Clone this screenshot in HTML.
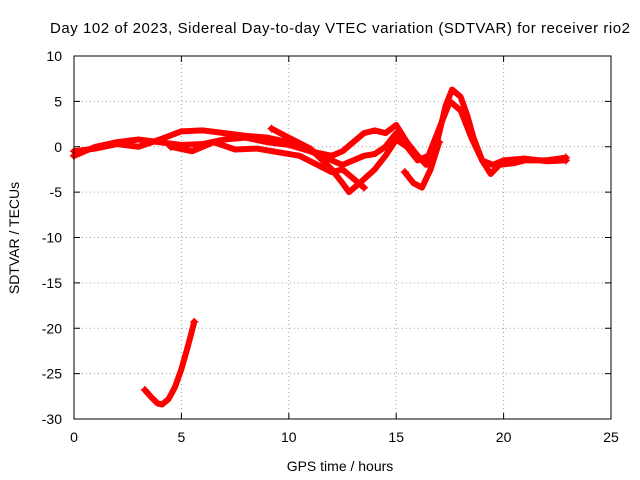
<!DOCTYPE html>
<html><head><meta charset="utf-8"><style>
body{margin:0;background:#fff}
svg{display:block;font-family:"Liberation Sans",sans-serif}
</style></head><body>
<svg id="chart" width="640" height="480">
<text x="50" y="33" font-size="15" textLength="580" lengthAdjust="spacing">Day 102 of 2023, Sidereal Day-to-day VTEC variation (SDTVAR) for receiver rio2</text>
<text x="340" y="471" font-size="14" text-anchor="middle">GPS time / hours</text>
<text x="19" y="238" font-size="14" text-anchor="middle" transform="rotate(-90 19 238)">SDTVAR / TECUs</text>
<g id="grid"></g><g id="ticks"></g><g id="series"></g>
<rect x="74" y="56" width="537" height="363" fill="none" stroke="#000"/>
</svg>
<script>
const xTicks=[0,5,10,15,20,25];
const yTicks=[10,5,0,-5,-10,-15,-20,-25,-30];
const trackA=[[3.3,-26.8],[3.6,-27.6],[3.9,-28.3],[4.1,-28.4],[4.4,-27.8],[4.7,-26.5],[5.0,-24.5],[5.3,-22],[5.6,-19.3]];
const trackB=[[0,-1],[0.5,-0.5],[1,0],[2,0.5],[3,0.8],[4,0.5],[5,0.2],[6,0.3],[7,0.8],[8,1.0],[9,0.5],[10,0.2],[11,-0.5],[12,-1.5],[12.5,-2],[13,-1.5],[13.5,-1],[14,-0.8],[14.5,0],[15,1.5],[15.5,0],[16,-1.5],[16.5,-1],[17,2],[17.5,5],[18,4],[18.5,1],[19,-1.5],[19.5,-2],[20,-1.5],[21,-1.3],[22,-1.6],[22.9,-1.5]];
const trackC=[[0,-0.5],[1,-0.2],[2,0.3],[3,0],[4,0.8],[5,1.7],[6,1.8],[7,1.5],[8,1.2],[9,1],[10,0.5],[11,-0.5],[12,-1],[12.5,-0.5],[13,0.5],[13.5,1.5],[14,1.8],[14.5,1.5],[15,2.4],[15.5,0.5],[16,-1],[16.4,-2],[16.8,-0.5],[17,1.5],[17.3,4.5],[17.6,6.3],[18,5.5],[18.3,3.5],[18.6,1],[19,-1.5],[19.4,-3],[19.8,-2],[20.5,-1.8],[21,-1.5],[22,-1.5],[22.9,-1.2]];
const trackD=[[9.2,2],[10,1],[11,-0.2],[12,-2.5],[12.5,-4],[12.8,-5],[13.3,-4],[14,-2.5],[14.5,-1],[15,0.8],[15.5,0]];
const trackE=[[4.5,0],[5.5,-0.5],[6.5,0.5],[7.5,-0.3],[8.5,-0.2],[9.5,-0.6],[10.5,-1],[11.5,-2.2],[12,-2.8],[12.5,-2.5],[13,-3.5],[13.5,-4.5]];
const trackF=[[15.4,-2.8],[15.8,-4],[16.2,-4.5],[16.6,-2.5],[17,0.5]];
const NS='http://www.w3.org/2000/svg';
const xs=t=>74+t*(537/25), ys=v=>56+(10-v)*(363/40);
function mk(tag,attrs,parent){const e=document.createElementNS(NS,tag);for(const k in attrs)e.setAttribute(k,attrs[k]);parent.appendChild(e);return e;}
const grid=document.getElementById('grid'),ticks=document.getElementById('ticks'),ser=document.getElementById('series');
xTicks.forEach(t=>{const x=xs(t);
 if(t>0&&t<25){const g=mk('line',{x1:x,x2:x,y1:56,y2:419,stroke:'#a0a0a0','stroke-dasharray':'1,3'},grid);
 
 }
 mk('line',{x1:x,x2:x,y1:419,y2:413,stroke:'#000'},ticks);mk('line',{x1:x,x2:x,y1:56,y2:62,stroke:'#000'},ticks);
 const l=mk('text',{x:x,y:442,'font-size':14,'text-anchor':'middle'},ticks);l.textContent=t;
 
 });
yTicks.forEach(v=>{const y=ys(v);
 if(v<10&&v>-30){const g=mk('line',{x1:74,x2:611,y1:y,y2:y,stroke:'#a0a0a0','stroke-dasharray':'1,3'},grid);
 
 }
 mk('line',{x1:74,x2:80,y1:y,y2:y,stroke:'#000'},ticks);mk('line',{x1:611,x2:605,y1:y,y2:y,stroke:'#000'},ticks);
 const l=mk('text',{x:62,y:y+5,'font-size':14,'text-anchor':'end'},ticks);l.textContent=v;
 
 });
[trackA,trackB,trackC,trackD,trackE,trackF].forEach((tr,i)=>{
 const p=mk('polyline',{points:tr.map(d=>xs(d[0])+','+ys(d[1])).join(' '),fill:'none',stroke:'#f00','stroke-width':6,'stroke-linejoin':'round','stroke-linecap':'round'},ser);
 
 
 const e=tr[tr.length-1],s=tr[0];
 [s,e].forEach(d=>{const x=xs(d[0]),y=ys(d[1]);
  mk('path',{d:`M${x-4},${y}H${x+4}M${x},${y-4}V${y+4}`,stroke:'#f00','stroke-width':1.5},ser);});
});
</script>
</body></html>
